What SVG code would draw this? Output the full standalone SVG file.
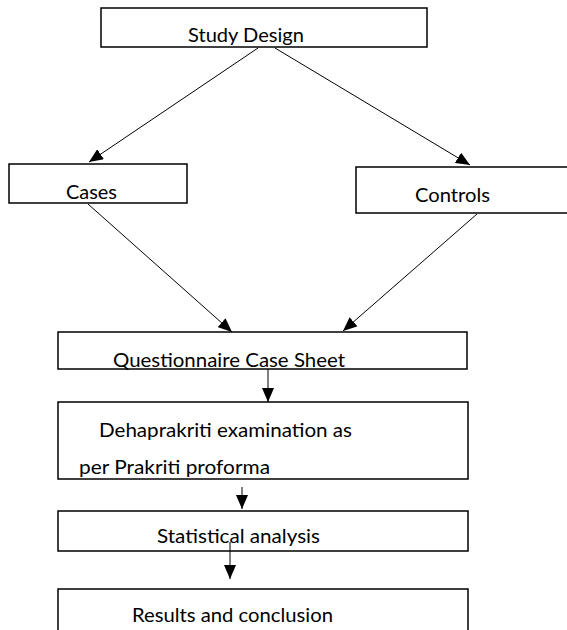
<svg xmlns="http://www.w3.org/2000/svg" width="567" height="630" viewBox="0 0 567 630">
<style>
.box{fill:#fff;stroke:#000;stroke-width:1.5}
.lbl{font-family:Lato,"Open Sans","Liberation Sans",sans-serif;font-size:19px;fill:#000}
.con{stroke:#000;stroke-width:1;fill:none;marker-end:url(#ah)}
</style>
<defs>
<marker id="ah" markerUnits="userSpaceOnUse" markerWidth="14" markerHeight="12" refX="14" refY="6" orient="auto">
<path d="M0,0 L14,6 L0,12 z" fill="#000"/>
</marker>
</defs>
<rect width="567" height="630" fill="#fff"/>
<g id="study-design">
<rect class="box" x="101" y="8" width="326" height="39"/>
<text class="lbl" x="188" y="42" textLength="116" lengthAdjust="spacingAndGlyphs">Study Design</text>
</g>
<g id="cases">
<rect class="box" x="9" y="164" width="178" height="39"/>
<text class="lbl" x="66" y="199" textLength="51" lengthAdjust="spacingAndGlyphs">Cases</text>
</g>
<g id="controls">
<rect class="box" x="356" y="167" width="214" height="46"/>
<text class="lbl" x="415" y="202" textLength="75" lengthAdjust="spacingAndGlyphs">Controls</text>
</g>
<g id="questionnaire">
<rect class="box" x="58" y="332" width="409" height="37"/>
<text class="lbl" x="113" y="367" textLength="232" lengthAdjust="spacingAndGlyphs">Questionnaire Case Sheet</text>
</g>
<g id="dehaprakriti">
<rect class="box" x="58" y="402" width="410" height="77"/>
<text class="lbl" x="99" y="437" textLength="253" lengthAdjust="spacingAndGlyphs">Dehaprakriti examination as</text>
<text class="lbl" x="79" y="474" textLength="191" lengthAdjust="spacingAndGlyphs">per Prakriti proforma</text>
</g>
<g id="statistical">
<rect class="box" x="58" y="511" width="410" height="40"/>
<text class="lbl" x="157" y="543" textLength="163" lengthAdjust="spacingAndGlyphs">Statistical analysis</text>
</g>
<g id="results">
<rect class="box" x="58" y="589" width="410" height="60"/>
<text class="lbl" x="132" y="622" textLength="201" lengthAdjust="spacingAndGlyphs">Results and conclusion</text>
</g>
<g id="connectors">
<line class="con" x1="258" y1="48" x2="89" y2="162"/>
<line class="con" x1="275" y1="48" x2="470" y2="165"/>
<line class="con" x1="88" y1="204" x2="232" y2="332"/>
<line class="con" x1="477" y1="214" x2="343" y2="331"/>
<line class="con" x1="268" y1="369" x2="268" y2="402"/>
<line class="con" x1="242" y1="487" x2="242" y2="509"/>
<line class="con" x1="230" y1="542" x2="230" y2="579"/>
</g>
</svg>
